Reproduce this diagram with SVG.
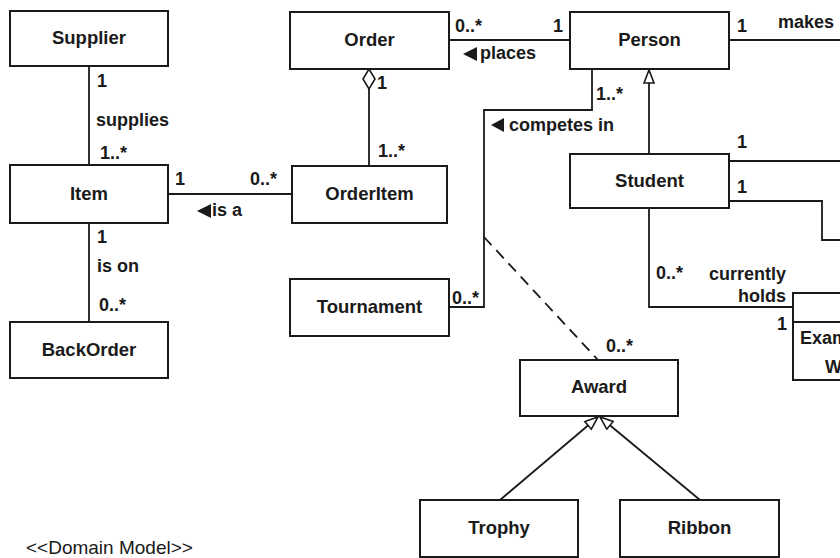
<svg xmlns="http://www.w3.org/2000/svg" width="840" height="558" viewBox="0 0 840 558">
<style>
.box{fill:#fff;stroke:#1a1a1a;stroke-width:2}
.ln{fill:none;stroke:#1a1a1a;stroke-width:1.8}
.dash{fill:none;stroke:#1a1a1a;stroke-width:1.8;stroke-dasharray:11 7}
.nm{font-family:"Liberation Sans",Arial,sans-serif;font-weight:bold;font-size:18.5px;fill:#1a1a1a;text-anchor:middle}
.lb{font-family:"Liberation Sans",Arial,sans-serif;font-weight:bold;font-size:18px;fill:#1a1a1a}
.lbr{font-family:"Liberation Sans",Arial,sans-serif;font-weight:bold;font-size:18px;fill:#1a1a1a;text-anchor:end}
.dir{fill:#1a1a1a}
.title{font-family:"Liberation Sans",Arial,sans-serif;font-size:19px;fill:#1a1a1a}
</style>
<defs>
<marker id="gen" markerWidth="16" markerHeight="14" refX="14" refY="6" orient="auto" markerUnits="userSpaceOnUse">
<path d="M1,1 L14,6 L1,11 Z" fill="#fff" stroke="#1a1a1a" stroke-width="1.6"/>
</marker>
</defs>
<g id="connectors">
<line class="ln" x1="89" y1="66" x2="89" y2="165"/>
<line class="ln" x1="89" y1="223" x2="89" y2="322"/>
<line class="ln" x1="168" y1="194" x2="292" y2="194"/>
<line class="ln" x1="449" y1="40" x2="570" y2="40"/>
<line class="ln" x1="369" y1="89" x2="369" y2="166"/>
<polygon points="369,69 375,79 369,89 363,79" fill="#fff" stroke="#1a1a1a" stroke-width="1.6"/>
<polyline class="ln" points="592,69 592,110 484,110 484,307 449,307"/>
<line class="dash" x1="484" y1="237" x2="598" y2="360"/>
<line class="ln" x1="649" y1="154" x2="649" y2="70" marker-end="url(#gen)"/>
<line class="ln" x1="729" y1="40" x2="840" y2="40"/>
<line class="ln" x1="729" y1="161" x2="840" y2="161"/>
<polyline class="ln" points="729,201 822,201 822,240 840,240"/>
<polyline class="ln" points="649,208 649,307 793,307"/>
<line class="ln" x1="500" y1="500" x2="598" y2="417" marker-end="url(#gen)"/>
<line class="ln" x1="700" y1="500" x2="600" y2="417" marker-end="url(#gen)"/>
<polygon class="dir" points="463,54 477,47 477,61"/>
<polygon class="dir" points="197,211 211,204 211,218"/>
<polygon class="dir" points="491,125 504,118 504,132"/>
<text class="lb" x="97" y="87">1</text>
<text class="lb" x="96" y="126">supplies</text>
<text class="lb" x="100" y="159">1..*</text>
<text class="lb" x="97" y="243">1</text>
<text class="lb" x="97" y="272">is on</text>
<text class="lb" x="99" y="311">0..*</text>
<text class="lb" x="175" y="185">1</text>
<text class="lb" x="250" y="185">0..*</text>
<text class="lb" x="212" y="216">is a</text>
<text class="lb" x="455" y="32">0..*</text>
<text class="lb" x="553" y="32">1</text>
<text class="lb" x="480" y="59">places</text>
<text class="lb" x="377" y="89">1</text>
<text class="lb" x="378" y="157">1..*</text>
<text class="lb" x="596" y="100">1..*</text>
<text class="lb" x="509" y="131">competes in</text>
<text class="lb" x="452" y="304">0..*</text>
<text class="lb" x="606" y="352">0..*</text>
<text class="lb" x="737" y="32">1</text>
<text class="lb" x="778" y="28">makes</text>
<text class="lb" x="737" y="148">1</text>
<text class="lb" x="737" y="193">1</text>
<text class="lb" x="656" y="279">0..*</text>
<text class="lbr" x="786" y="280">currently</text>
<text class="lbr" x="786" y="302">holds</text>
<text class="lb" x="777" y="330">1</text>
</g>
<g id="supplier"><rect class="box" x="10" y="11" width="158" height="55"/><text class="nm" x="89" y="44">Supplier</text></g>
<g id="item"><rect class="box" x="10" y="165" width="158" height="58"/><text class="nm" x="89" y="200">Item</text></g>
<g id="backorder"><rect class="box" x="10" y="322" width="158" height="56"/><text class="nm" x="89" y="356">BackOrder</text></g>
<g id="order"><rect class="box" x="290" y="12" width="159" height="57"/><text class="nm" x="369.5" y="46">Order</text></g>
<g id="orderitem"><rect class="box" x="292" y="166" width="155" height="57"/><text class="nm" x="369.5" y="200">OrderItem</text></g>
<g id="tournament"><rect class="box" x="290" y="279" width="159" height="57"/><text class="nm" x="369.5" y="313">Tournament</text></g>
<g id="person"><rect class="box" x="570" y="12" width="159" height="57"/><text class="nm" x="649.5" y="46">Person</text></g>
<g id="student"><rect class="box" x="570" y="154" width="159" height="54"/><text class="nm" x="649.5" y="187">Student</text></g>
<g id="award"><rect class="box" x="520" y="360" width="158" height="56"/><text class="nm" x="599" y="393">Award</text></g>
<g id="trophy"><rect class="box" x="420" y="500" width="158" height="57"/><text class="nm" x="499" y="534">Trophy</text></g>
<g id="ribbon"><rect class="box" x="620" y="500" width="159" height="57"/><text class="nm" x="699.5" y="534">Ribbon</text></g>
<g id="examwaiver"><rect class="box" x="793" y="293" width="100" height="87"/><line class="ln" x1="793" y1="322" x2="893" y2="322"/><text class="lb" x="800" y="344">Exam</text><text class="lb" x="825" y="373">W</text></g>
<text class="title" x="26" y="554">&lt;&lt;Domain Model&gt;&gt;</text>
</svg>
